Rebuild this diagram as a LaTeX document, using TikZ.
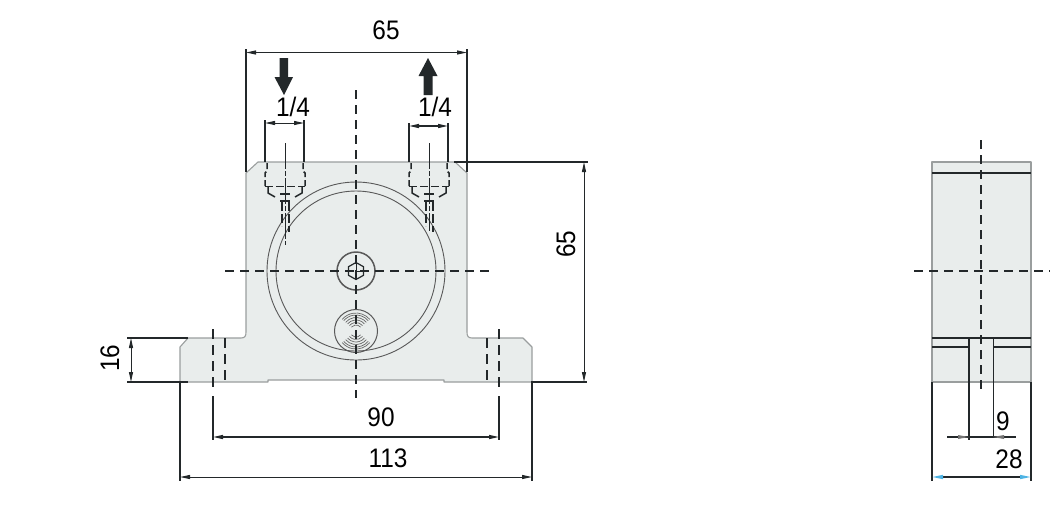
\documentclass[tikz,border=0pt]{standalone}
\usepackage{fontspec}
\setmainfont[FakeStretch=0.91]{Liberation Sans}
\usetikzlibrary{arrows.meta}
\definecolor{ink}{HTML}{23282A}
\definecolor{body}{HTML}{E9EDEC}
\definecolor{edge}{HTML}{9A9E9E}
\definecolor{tipblue}{HTML}{4FB4E4}
\tikzset{
  x=1pt,y=-1pt,
  outline/.style={draw=edge,line width=1.1pt,fill=body,line join=round},
  thin circle/.style={draw=black!65,line width=.9pt},
  ext/.style={draw=ink,line width=1.5pt},
  extthin/.style={draw=ink,line width=1pt},
  dim/.style={draw=ink,line width=1pt,{Stealth[length=10pt,width=4pt,inset=0pt]}-{Stealth[length=10pt,width=4pt,inset=0pt]}},
  dimbold/.style={dim,line width=1.4pt},
  centre/.style={draw=ink,line width=1.5pt,dash pattern=on 9pt off 6pt},
  hidden/.style={draw=ink,line width=1.5pt,dash pattern=on 6pt off 3pt},
  hiddenb/.style={draw=ink,line width=1.5pt,dash pattern=on 10pt off 6pt},
  value/.style={inner sep=0pt,font=\fontsize{26.8}{27}\selectfont,text=black},
  flow/.style={fill=ink,draw=none},
}
\begin{document}
\begin{tikzpicture}
\useasboundingbox (0,0) rectangle (1054,528);
% front view body
\path[outline] (246,173) -- (258,162) -- (455,162) -- (467,173) -- (467,332)
  .. controls (467,336) and (468,338) .. (472,338) -- (523,338) -- (532,347) -- (532,382)
  -- (444,382) -- (444,380) -- (268,380) -- (268,382) -- (180,382) -- (180,347) -- (188,338)
  -- (241,338) .. controls (245,338) and (246,336) .. (246,332) -- cycle;
% circles
\draw[thin circle] (356,271) circle[radius=89];
\draw[thin circle] (356,271) circle[radius=80];
\draw[draw=black!65,line width=1.5pt] (356,271) circle[radius=19];
\draw[draw=ink,line width=1.2pt] (356,262.5) -- (363.5,266.7) -- (363.5,275.3) -- (356,279.5) -- (348.5,275.3) -- (348.5,266.7) -- cycle;
\draw[draw=ink,line width=.9pt] (356,262.5) -- (356,271) -- (363.5,271);
\draw[draw=black!65,line width=1pt] (356,331) circle[radius=21.5];
\foreach \r in {6,8.5,11,13.5,16,18}{
  \draw[draw=black!60,line width=.7pt] ({356+\r*cos(40)},{331-\r*sin(40)}) arc[start angle=-40,end angle=-140,radius=\r];
  \draw[draw=black!60,line width=.7pt] ({356+\r*cos(40)},{331+\r*sin(40)}) arc[start angle=40,end angle=140,radius=\r];
}
% ports
\foreach \a/\yend in {285/245,429/231}{
  \draw[draw=ink,line width=.9pt,dash pattern=on 26pt off 2pt on 5pt off 2pt] (\a,143) -- (\a,\yend);
  \draw[hidden] (\a-18,163) -- (\a-18,171) -- (\a-20,173) -- (\a-20,186);
  \draw[hidden] (\a+18,163) -- (\a+18,171) -- (\a+20,173) -- (\a+20,186);
  \draw[hidden,dash pattern=on 8pt off 3pt] (\a-20,186.5) -- (\a+20,186.5);
  \draw[draw=ink,line width=1.5pt] (\a-17,187) -- (\a-17,193) -- (\a-10,197);
  \draw[draw=ink,line width=1.5pt] (\a+17,187) -- (\a+17,193) -- (\a+10,197);
  \draw[draw=ink,line width=1.5pt] (\a-5,194) -- (\a+5,194);
  \draw[draw=ink,line width=1.5pt] (\a-5,201) -- (\a+5,201);
  \draw[hidden,dash pattern=on 9pt off 3pt] (\a-3,202) -- (\a-3,226);
  \draw[hidden,dash pattern=on 9pt off 3pt] (\a+4,202) -- (\a+4,232);
}
% hidden bolt holes
\draw[hiddenb] (213,329) -- (213,392);
\draw[hiddenb] (225,338) -- (225,382);
\draw[hiddenb] (487,338) -- (487,382);
\draw[hiddenb] (499,329) -- (499,392);
% centre lines
\draw[centre] (356,90) -- (356,398);
\draw[centre] (225,271) -- (490,271);
% flow arrows
\path[flow] (279.5,58) -- (288,58) -- (288,77) -- (293,77) -- (284,95) -- (274.5,77) -- (279.5,77) -- cycle;
\path[flow] (423.5,95) -- (432.5,95) -- (432.5,76) -- (437.5,76) -- (428,58) -- (418.5,76) -- (423.5,76) -- cycle;
% front view dimensions
\draw[ext] (246,172) -- (246,49);
\draw[ext] (467,172) -- (467,49);
\draw[dim] (246,52.5) -- (467,52.5);
\node[value] (d65top) at (386,30) {65};
\draw[ext] (265,120) -- (265,162);
\draw[ext] (304,120) -- (304,162);
\draw[dim] (265,123) -- (304,123);
\node[value] (p1) at (293,107) {1/4};
\draw[ext] (409,123) -- (409,162);
\draw[ext] (448,123) -- (448,162);
\draw[dimbold] (409,126) -- (448,126);
\node[value] (p2) at (435,107) {1/4};
\draw[ext] (454,162) -- (588,162);
\draw[ext] (531,382) -- (587,382);
\draw[dim] (584,162) -- (584,382);
\node[value,rotate=90] (d65r) at (566,244) {65};
\draw[ext] (127,338) -- (188,338);
\draw[ext] (127,382) -- (188,382);
\draw[dim] (131,338) -- (131,382);
\node[value,rotate=90] (d16) at (110,358) {16};
\draw[ext] (213,396) -- (213,440);
\draw[ext] (499,396) -- (499,440);
\draw[dimbold] (213,437) -- (499,437);
\node[value] (d90) at (381,417) {90};
\draw[ext] (180,382) -- (180,481);
\draw[ext] (532,382) -- (532,481);
\draw[dim] (180,477) -- (532,477);
\node[value] (d113) at (388,458) {113};
% side view
\path[outline] (932,162) rectangle (1031,382);
\draw[ext] (932,173) -- (1031,173);
\draw[ext] (932,338) -- (1031,338);
\draw[ext] (932,347) -- (969,347);
\draw[ext] (993,347) -- (1031,347);
\draw[ext] (969,338) -- (969,382);
\draw[extthin] (993,338) -- (993,382);
\draw[centre] (981,140) -- (981,393);
\draw[centre] (914,271) -- (1050,271);
\draw[ext] (969,382) -- (969,440);
\draw[extthin] (993,382) -- (993,437);
\draw[ext] (932,382) -- (932,481);
\draw[ext] (1031,382) -- (1031,481);
\draw[draw=ink,line width=1.4pt] (947,437) -- (1016,437);
\draw[draw=none,fill=black!55] (969,437) -- (958,435) -- (958,439) -- cycle;
\draw[draw=none,fill=black!55] (993,437) -- (1004,435) -- (1004,439) -- cycle;
\node[value] (d9) at (1003,421) {9};
\draw[draw=ink,line width=1.4pt,{Stealth[length=11pt,width=4pt,inset=0pt,color=tipblue]}-{Stealth[length=11pt,width=4pt,inset=0pt,color=tipblue]}] (932,477) -- (1031,477);
\node[value] (d28) at (1009,459) {28};
\end{tikzpicture}
\end{document}
